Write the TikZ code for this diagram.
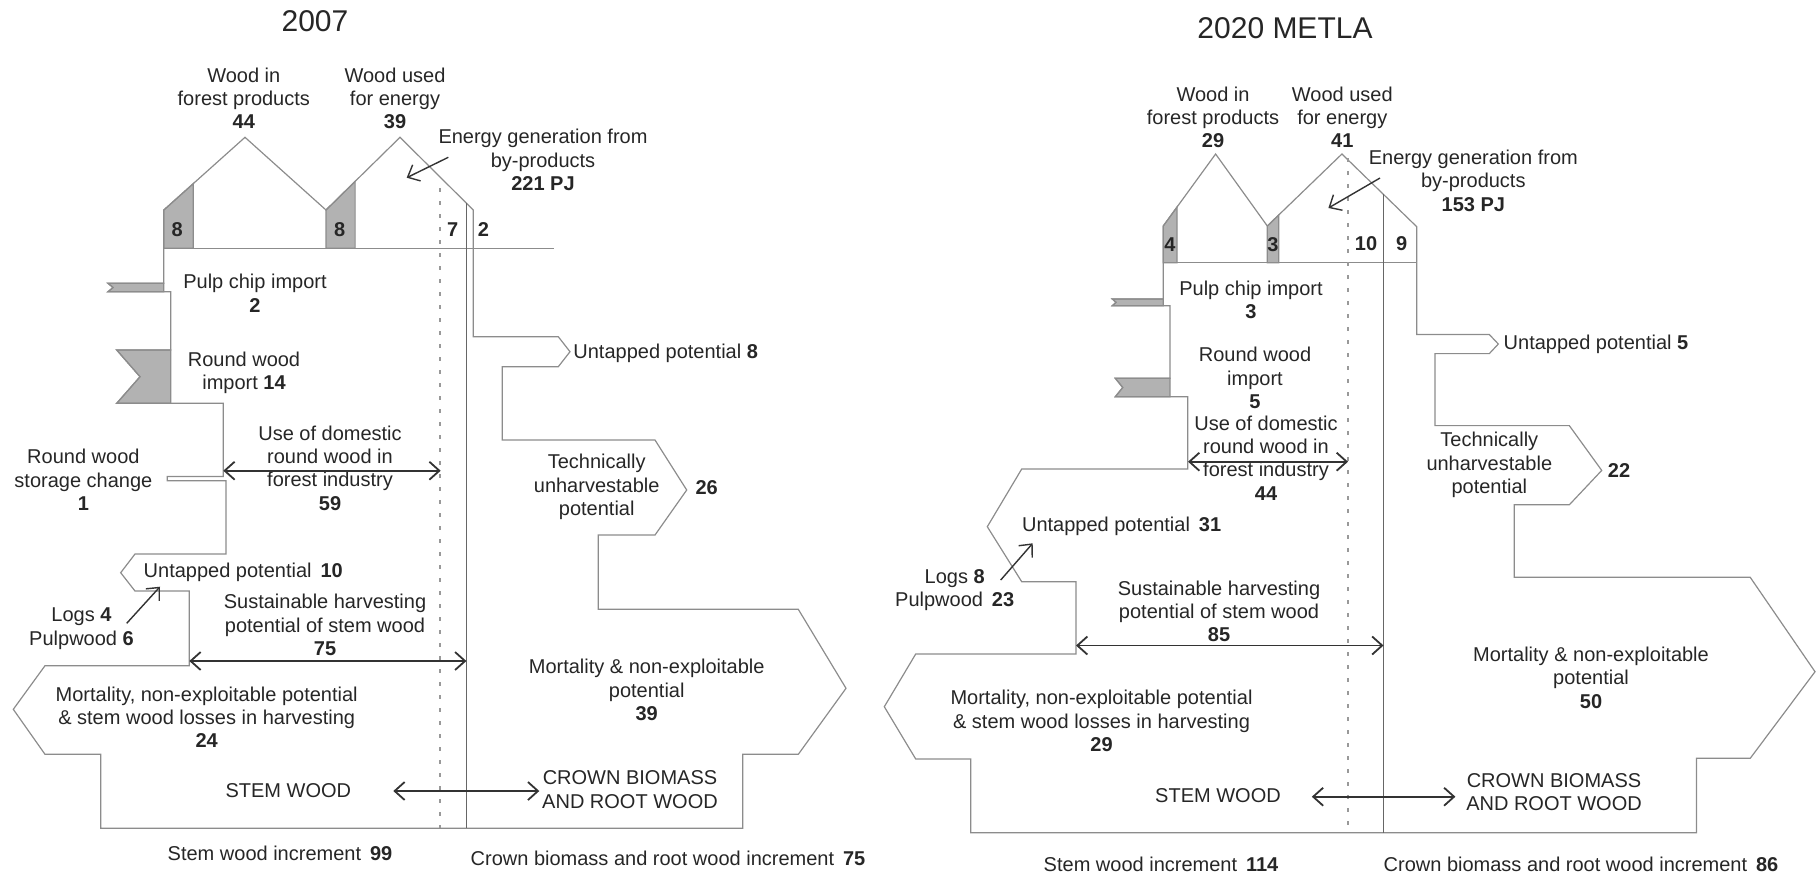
\documentclass[tikz,border=0pt]{standalone}
\usepackage{fontspec}
\setmainfont{Liberation Sans}
\usetikzlibrary{arrows.meta}

\begin{document}
\begin{tikzpicture}[x=0.5pt, y=-0.5pt,
  flowedge/.style={draw=black!45, line width=0.6pt},
  grayfill/.style={fill=black!30, draw=black!45, line width=0.6pt},
  divider/.style={draw=black!60, line width=0.6pt},
  dotline/.style={draw=black!40, line width=1.1pt, dash pattern=on 2pt off 4.5pt},
  twoway/.style={draw=black!80, line width=0.9pt, {Straight Barb[length=5pt,width=9pt]}-{Straight Barb[length=5pt,width=9pt]}},
  pointer/.style={draw=black!80, line width=0.7pt, -{Straight Barb[length=5pt,width=9pt]}},
  txt/.style={font=\fontsize{10}{11.65}\selectfont, align=center, inner sep=0pt, text=black!85},
  yearhead/.style={font=\fontsize{15}{18}\selectfont, inner sep=0pt, text=black!85}]
\useasboundingbox (0,0) rectangle (1818,875);

% ---------------- 2007 ----------------
\fill[grayfill] (163.8,248.3)--(163.8,210)--(193.3,183.6)--(193.3,248.3)--cycle;
\fill[grayfill] (326,248.3)--(326,210)--(355.1,181.4)--(355.1,248.3)--cycle;
\fill[grayfill] (108,283.3)--(163.8,283.3)--(163.8,291.7)--(108,291.7)--(113,287.5)--cycle;
\fill[grayfill] (116.7,350)--(170.7,350)--(170.7,403.3)--(116.7,403.3)--(140,376.7)--cycle;
\draw[flowedge] (163.8,210)--(163.8,283.3)--(108,283.3)--(113,287.5)--(108,291.7)--(170.7,291.7)
  --(170.7,350)--(116.7,350)--(140,376.7)--(116.7,403.3)--(223.3,403.3)--(223.3,476.5)
  --(167.3,476.5)--(167.3,480.7)--(226,480.7)--(226,554)--(135,554)--(120.7,572.7)--(135,591)
  --(189.3,591)--(189.3,665.7)--(45,665.7)--(13.3,709.3)--(45,754.3)--(100.7,754.3)--(100.7,828.3)
  --(742.7,828.3)--(742.7,754.3)--(798.3,754.3)--(846,688.3)--(798.3,609.3)--(598.3,609.3)
  --(598.3,535)--(655,535)--(686.7,490)--(655,440)--(502.3,440)--(502.3,366.7)--(558.3,366.7)
  --(570,351.7)--(558.3,336.7)--(473.3,336.7)--(473.3,210)--(400,137.3)--(326,210)--(245,137.3)--cycle;
\draw[flowedge] (163.8,248.3)--(554.2,248.3);
\draw[divider] (466.4,203)--(466.4,828.3);
\draw[dotline] (440,188)--(440,828.3);

\node[yearhead] (y07) at (315,20.7) {2007};
\node[txt] (prod07) at (243.8,98.3) {Wood in\\forest products\\\textbf{44}};
\node[txt] (ener07) at (395,98.3) {Wood used\\for energy\\\textbf{39}};
\node[txt] (byp07) at (543,160) {Energy generation from\\by-products\\\textbf{221 PJ}};
\node[txt] (pa07) at (177.2,229.3) {\textbf{8}};
\node[txt] (pb07) at (339.8,229.3) {\textbf{8}};
\node[txt] (pc07) at (452.7,230) {\textbf{7}};
\node[txt] (pd07) at (483.4,230) {\textbf{2}};
\node[txt] (chip07) at (255,293.3) {Pulp chip import\\\textbf{2}};
\node[txt] (rimp07) at (244,373) {Round wood\\import \textbf{14}};
\node[txt] (stor07) at (83.4,480) {Round wood\\storage change\\\textbf{1}};
\node[txt] (dom07) at (330,468) {Use of domestic\\round wood in\\forest industry\\\textbf{59}};
\node[txt, anchor=west] (unt07) at (143.3,572.7) {Untapped potential\, \textbf{10}};
\node[txt] (logs07) at (81.5,628.7) {Logs \textbf{4}\\Pulpwood \textbf{6}};
\node[txt] (sus07) at (325,625) {Sustainable harvesting\\potential of stem wood\\\textbf{75}};
\node[txt] (mort07) at (206.7,717.3) {Mortality, non-exploitable potential\\\& stem wood losses in harvesting\\\textbf{24}};
\node[txt] (stem07) at (288.3,790.7) {STEM WOOD};
\node[txt] (crown07) at (630,789.7) {CROWN BIOMASS\\AND ROOT WOOD};
\node[txt] (mortb07) at (646.7,690) {Mortality \& non-exploitable\\potential\\\textbf{39}};
\node[txt, anchor=west] (untb07) at (573,353) {Untapped potential \textbf{8}};
\node[txt] (tech07) at (596.7,487) {Technically\\unharvestable\\potential};
\node[txt] (techn07) at (706.7,488) {\textbf{26}};
\node[txt] (inc07) at (280,853.3) {Stem wood increment\, \textbf{99}};
\node[txt] (cinc07) at (668,858.3) {Crown biomass and root wood increment\, \textbf{75}};

\coordinate (domL07) at (223.3,470.7);
\coordinate (domR07) at (440.7,470.7);
\coordinate (susL07) at (189.3,661);
\coordinate (susR07) at (466.4,661);
\coordinate (stemR07) at (393.3,791);
\coordinate (crownL07) at (539.3,791);
\coordinate (logsT07) at (126.7,623.3);
\coordinate (untH07) at (160,586.7);
\coordinate (bypT07) at (448.3,157.3);
\coordinate (bypH07) at (406.7,177.7);
\draw[twoway] (domL07)--(domR07);
\draw[twoway] (susL07)--(susR07);
\draw[twoway] (stemR07)--(crownL07);
\draw[pointer] (logsT07)--(untH07);
\draw[pointer] (bypT07)--(bypH07);

% ---------------- 2020 METLA ----------------
\fill[grayfill] (1163.2,262.7)--(1163.2,226)--(1177,207)--(1177,262.7)--cycle;
\fill[grayfill] (1267.3,262.7)--(1267.3,226)--(1278.8,214.9)--(1278.8,262.7)--cycle;
\fill[grayfill] (1112.3,299)--(1163.2,299)--(1163.2,305.7)--(1112.3,305.7)--(1116,302.3)--cycle;
\fill[grayfill] (1115.3,378.3)--(1170,378.3)--(1170,396.7)--(1115.3,396.7)--(1122.7,387.5)--cycle;
\draw[flowedge] (1163.2,226)--(1163.2,299)--(1112.3,299)--(1116,302.3)--(1112.3,305.7)--(1170,305.7)
  --(1170,378.3)--(1115.3,378.3)--(1122.7,387.5)--(1115.3,396.7)--(1187.7,396.7)--(1187.7,469)
  --(1021.7,469)--(987.3,526.7)--(1021.7,581.7)--(1076,581.7)--(1076,654)--(915.7,654)
  --(884.3,706.7)--(915.7,759)--(970.7,759)--(970.7,832.7)--(1696.4,832.7)--(1696.4,758.3)
  --(1750.2,758.3)--(1815,671.7)--(1750.2,577.3)--(1514.3,577.3)--(1514.3,504.8)--(1569.3,504.8)
  --(1601.7,470.4)--(1569.3,425.6)--(1435,425.6)--(1435,353.6)--(1489.3,353.6)--(1498.3,344)
  --(1489.3,334.5)--(1416.7,334.5)--(1416.7,226.7)--(1341.9,154)--(1267.3,226)--(1215.6,154)--cycle;
\draw[flowedge] (1163.2,262.7)--(1416.7,262.7);
\draw[divider] (1383.5,194)--(1383.5,832.7);
\draw[dotline] (1347.7,158)--(1347.7,832.7);

\node[yearhead] (y20) at (1285,28.3) {2020 METLA};
\node[txt] (prod20) at (1213,117.3) {Wood in\\forest products\\\textbf{29}};
\node[txt] (ener20) at (1342.3,117.3) {Wood used\\for energy\\\textbf{41}};
\node[txt] (byp20) at (1473.3,180.7) {Energy generation from\\by-products\\\textbf{153 PJ}};
\node[txt] (pa20) at (1170,245) {\textbf{4}};
\node[txt] (pb20) at (1273,245) {\textbf{3}};
\node[txt] (pc20) at (1366,244) {\textbf{10}};
\node[txt] (pd20) at (1401.7,244) {\textbf{9}};
\node[txt] (chip20) at (1251,300) {Pulp chip import\\\textbf{3}};
\node[txt] (rimp20) at (1255,378) {Round wood\\import\\\textbf{5}};
\node[txt] (dom20) at (1266,458) {Use of domestic\\round wood in\\forest industry\\\textbf{44}};
\node[txt, anchor=west] (unt20) at (1021.7,526) {Untapped potential\, \textbf{31}};
\node[txt] (logs20) at (954.7,590) {Logs \textbf{8}\\Pulpwood\, \textbf{23}};
\node[txt] (sus20) at (1219,611.3) {Sustainable harvesting\\potential of stem wood\\\textbf{85}};
\node[txt] (mort20) at (1101.5,721) {Mortality, non-exploitable potential\\\& stem wood losses in harvesting\\\textbf{29}};
\node[txt] (stem20) at (1218,796) {STEM WOOD};
\node[txt] (crown20) at (1554,792) {CROWN BIOMASS\\AND ROOT WOOD};
\node[txt] (mortb20) at (1591,677.7) {Mortality \& non-exploitable\\potential\\\textbf{50}};
\node[txt, anchor=west] (untb20) at (1503.3,344) {Untapped potential \textbf{5}};
\node[txt] (tech20) at (1489.3,465) {Technically\\unharvestable\\potential};
\node[txt] (techn20) at (1619,470.4) {\textbf{22}};
\node[txt] (inc20) at (1161,864.3) {Stem wood increment\, \textbf{114}};
\node[txt] (cinc20) at (1581,864.3) {Crown biomass and root wood increment\, \textbf{86}};

\coordinate (domL20) at (1188,461.7);
\coordinate (domR20) at (1348,461.7);
\coordinate (susL20) at (1076,645.5);
\coordinate (susR20) at (1383.5,645.5);
\coordinate (stemR20) at (1311.8,796.7);
\coordinate (crownL20) at (1455.4,796.7);
\coordinate (logsT20) at (1000.7,580);
\coordinate (untH20) at (1032.7,543.3);
\coordinate (bypT20) at (1380,178);
\coordinate (bypH20) at (1328.4,208);
\draw[twoway] (domL20)--(domR20);
\draw[twoway] (susL20)--(susR20);
\draw[twoway] (stemR20)--(crownL20);
\draw[pointer] (logsT20)--(untH20);
\draw[pointer] (bypT20)--(bypH20);
\end{tikzpicture}
\end{document}
